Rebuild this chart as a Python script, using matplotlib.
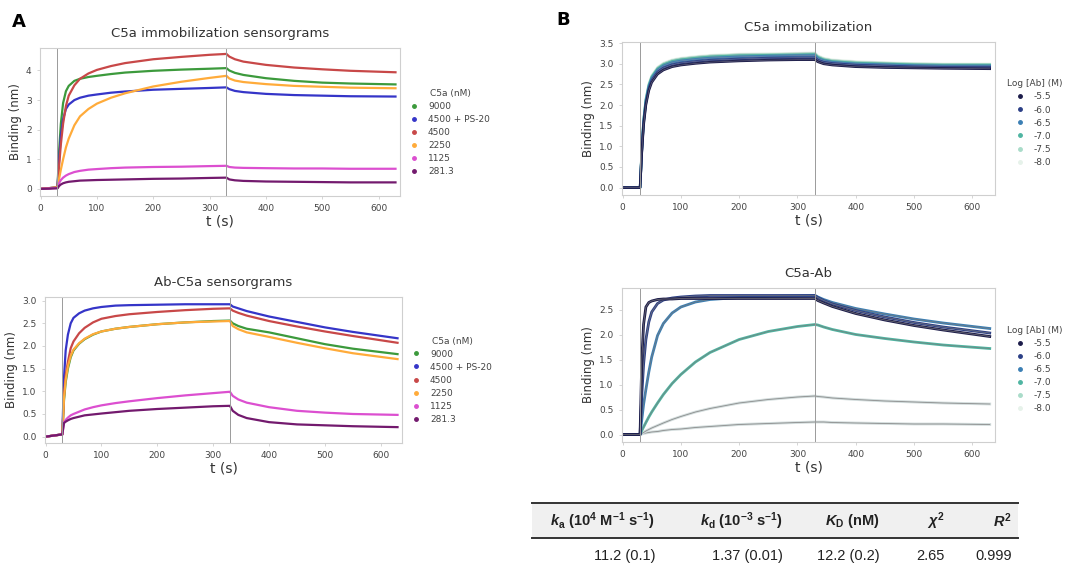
import matplotlib
matplotlib.use("Agg")
import matplotlib.pyplot as plt
from matplotlib.lines import Line2D
from matplotlib.patches import Rectangle

plt.rcParams["mathtext.fontset"] = "custom"
plt.rcParams["mathtext.rm"] = "Liberation Sans:bold"
plt.rcParams["mathtext.it"] = "Liberation Sans:italic:bold"
plt.rcParams["mathtext.bf"] = "Liberation Sans:bold"

# shared time grid (s)
T = [0, 30, 33, 36, 40, 45, 50, 60, 70, 85, 100, 125, 150, 200, 250, 300,
     330, 335, 345, 360, 400, 450, 500, 550, 630]

# panel A, C5a immobilization sensorgrams
A1_LABELS = ["9000", "4500 + PS-20", "4500", "2250", "1125", "281.3"]
A1_9000 = [0, 0.05, 1.3, 2.2, 2.9, 3.3, 3.48, 3.65, 3.72, 3.78, 3.82, 3.88, 3.93, 3.99, 4.03, 4.06,
           4.08, 4.0, 3.92, 3.85, 3.74, 3.65, 3.59, 3.56, 3.53]
A1_4500PS = [0, 0.05, 1.0, 1.8, 2.35, 2.7, 2.85, 3.0, 3.08, 3.15, 3.19, 3.25, 3.29, 3.35, 3.38, 3.41,
             3.43, 3.37, 3.31, 3.27, 3.21, 3.17, 3.15, 3.13, 3.12]
A1_4500 = [0, 0.05, 0.8, 1.5, 2.2, 2.8, 3.15, 3.5, 3.72, 3.9, 4.02, 4.15, 4.25, 4.38, 4.46, 4.53,
           4.56, 4.47, 4.38, 4.3, 4.19, 4.1, 4.04, 3.99, 3.94]
A1_2250 = [0, 0.05, 0.35, 0.65, 1.0, 1.4, 1.7, 2.15, 2.45, 2.7, 2.88, 3.08, 3.23, 3.46, 3.62, 3.75,
           3.82, 3.73, 3.66, 3.61, 3.54, 3.48, 3.45, 3.42, 3.4]
A1_1125 = [0, 0.03, 0.2, 0.3, 0.38, 0.45, 0.5, 0.57, 0.61, 0.65, 0.67, 0.7, 0.72, 0.74, 0.75, 0.77,
           0.78, 0.74, 0.72, 0.71, 0.7, 0.69, 0.69, 0.68, 0.68]
A1_281 = [0, 0.02, 0.1, 0.15, 0.19, 0.22, 0.24, 0.26, 0.28, 0.29, 0.3, 0.31, 0.32, 0.34, 0.35, 0.37,
          0.38, 0.32, 0.29, 0.27, 0.25, 0.24, 0.23, 0.22, 0.22]

# panel A, Ab-C5a sensorgrams
A2_9000 = [0, 0.05, 0.8, 1.2, 1.5, 1.75, 1.9, 2.05, 2.15, 2.25, 2.32, 2.38, 2.42, 2.48, 2.52, 2.55,
           2.56, 2.5, 2.44, 2.38, 2.3, 2.17, 2.04, 1.94, 1.82]
A2_4500PS = [0, 0.05, 1.3, 1.9, 2.25, 2.5, 2.62, 2.72, 2.78, 2.83, 2.86, 2.89, 2.9, 2.91, 2.92, 2.92,
             2.92, 2.87, 2.83, 2.77, 2.65, 2.53, 2.41, 2.31, 2.17]
A2_4500 = [0, 0.05, 0.9, 1.35, 1.65, 1.95, 2.1, 2.28, 2.4, 2.52, 2.6, 2.66, 2.7, 2.75, 2.79, 2.82,
           2.83, 2.78, 2.73, 2.67, 2.55, 2.43, 2.32, 2.22, 2.07]
A2_2250 = [0, 0.05, 0.85, 1.25, 1.55, 1.78, 1.92, 2.06, 2.16, 2.26, 2.32, 2.38, 2.42, 2.48, 2.52, 2.54,
           2.55, 2.44, 2.37, 2.3, 2.2, 2.07, 1.95, 1.84, 1.71]
A2_1125 = [0, 0.05, 0.32, 0.37, 0.42, 0.47, 0.5, 0.55, 0.6, 0.65, 0.69, 0.74, 0.78, 0.85, 0.91, 0.96,
           0.99, 0.9, 0.82, 0.75, 0.65, 0.57, 0.53, 0.5, 0.48]
A2_281 = [0, 0.05, 0.3, 0.33, 0.36, 0.39, 0.41, 0.44, 0.47, 0.49, 0.51, 0.54, 0.57, 0.61, 0.64, 0.67,
          0.68, 0.57, 0.48, 0.41, 0.32, 0.27, 0.25, 0.23, 0.21]

# panel B, C5a immobilization (log [Ab])
B_LABELS = ["-5.5", "-6.0", "-6.5", "-7.0", "-7.5", "-8.0"]
B1_55 = [0, 0, 0.85, 1.5, 2.0, 2.35, 2.55, 2.75, 2.85, 2.93, 2.97, 3.01, 3.04, 3.07, 3.09, 3.1,
         3.1, 3.05, 3.0, 2.97, 2.93, 2.91, 2.9, 2.89, 2.88]
B1_60 = [0, 0, 0.88, 1.55, 2.05, 2.4, 2.6, 2.8, 2.9, 2.98, 3.02, 3.06, 3.09, 3.12, 3.14, 3.15,
         3.15, 3.09, 3.04, 3.01, 2.97, 2.95, 2.93, 2.92, 2.92]
B1_65 = [0, 0, 0.9, 1.6, 2.1, 2.45, 2.65, 2.85, 2.95, 3.03, 3.07, 3.11, 3.14, 3.17, 3.19, 3.2,
         3.2, 3.13, 3.08, 3.04, 3.0, 2.98, 2.96, 2.95, 2.95]
B1_70 = [0, 0, 0.92, 1.62, 2.13, 2.48, 2.68, 2.88, 2.98, 3.06, 3.1, 3.14, 3.17, 3.2, 3.21, 3.22,
         3.23, 3.16, 3.1, 3.06, 3.02, 3.0, 2.98, 2.97, 2.97]
B1_75 = [0, 0, 0.93, 1.64, 2.15, 2.5, 2.7, 2.9, 3.0, 3.08, 3.12, 3.16, 3.19, 3.22, 3.23, 3.24,
         3.25, 3.18, 3.12, 3.08, 3.04, 3.02, 3.0, 2.99, 2.99]
B1_80 = [0, 0, 0.95, 1.66, 2.17, 2.52, 2.72, 2.92, 3.02, 3.1, 3.14, 3.18, 3.21, 3.24, 3.25, 3.26,
         3.27, 3.2, 3.14, 3.1, 3.06, 3.03, 3.01, 3.0, 3.0]

# panel B, C5a-Ab
B2_55 = [0, 0, 1.5, 2.2, 2.55, 2.64, 2.67, 2.7, 2.71, 2.71, 2.72, 2.72, 2.72, 2.72, 2.72, 2.72,
         2.72, 2.68, 2.63, 2.56, 2.42, 2.29, 2.18, 2.09, 1.96]
B2_60 = [0, 0, 0.8, 1.4, 1.9, 2.25, 2.45, 2.62, 2.69, 2.73, 2.75, 2.77, 2.78, 2.78, 2.78, 2.78,
         2.78, 2.74, 2.68, 2.61, 2.48, 2.35, 2.24, 2.15, 2.03]
B2_65 = [0, 0, 0.3, 0.6, 0.9, 1.25, 1.55, 1.98, 2.22, 2.43, 2.55, 2.65, 2.7, 2.74, 2.76, 2.77,
         2.78, 2.75, 2.7, 2.64, 2.52, 2.41, 2.31, 2.23, 2.12]
B2_70 = [0, 0, 0.08, 0.15, 0.24, 0.35, 0.45, 0.63, 0.8, 1.02, 1.2, 1.45, 1.64, 1.9, 2.06, 2.16,
         2.2, 2.19, 2.15, 2.1, 2.0, 1.92, 1.85, 1.79, 1.72]
B2_75 = [0, 0, 0.02, 0.04, 0.07, 0.1, 0.13, 0.18, 0.23, 0.3, 0.36, 0.45, 0.52, 0.63, 0.7, 0.75,
         0.77, 0.76, 0.75, 0.73, 0.7, 0.67, 0.65, 0.63, 0.61]
B2_80 = [0, 0, 0.01, 0.02, 0.03, 0.04, 0.05, 0.06, 0.08, 0.1, 0.11, 0.14, 0.16, 0.2, 0.22, 0.24,
         0.25, 0.25, 0.25, 0.24, 0.23, 0.22, 0.21, 0.21, 0.2]

# kinetics table
TABLE_HEAD = [r"$k_\mathrm{a}$ (10$^4$ M$^{-1}$ s$^{-1}$)", r"$k_\mathrm{d}$ (10$^{-3}$ s$^{-1}$)",
              r"$K_\mathrm{D}$ (nM)", r"$\chi^2$", r"$R^2$"]
TABLE_ROW = ["11.2 (0.1)", "1.37 (0.01)", "12.2 (0.2)", "2.65", "0.999"]

A_COLORS = ["#3c9a3c", "#3535c8", "#c84848", "#ffab3a", "#dc4fd0", "#731a6e"]
B_COLORS = ["#1c1c4a", "#2b3f86", "#3b7fb4", "#4fb5a2", "#a9dcc9", "#e6f2ea"]

W, H = 1081, 569
fig = plt.figure(figsize=(W / 100, H / 100), dpi=100)


def box(l, t, r, b):
    return [l / W, 1 - b / H, (r - l) / W, (b - t) / H]


def style(ax, title, ylim, yticks, xmax):
    ax.set_xlim(-1, xmax); ax.set_ylim(*ylim); ax.set_yticks(yticks)
    ax.set_xticks([0, 100, 200, 300, 400, 500, 600])
    for s in ax.spines.values():
        s.set_color("#cfcfcf"); s.set_linewidth(0.8)
    ax.tick_params(labelsize=6.5, colors="#cfcfcf", labelcolor="#444444", length=2.5, width=0.6)
    ax.axvline(30, color="#9a9a9a", lw=0.7); ax.axvline(330, color="#9a9a9a", lw=0.7)
    ax.set_title(title, fontsize=9.5, color="#333333", pad=8)
    ax.set_xlabel("t (s)", fontsize=10, color="#333333", labelpad=1)
    ax.set_ylabel("Binding (nm)", fontsize=8.5, color="#333333", labelpad=3)


def legend(ax, colors, labels, title, y):
    hs = [Line2D([], [], ls="", marker="o", ms=2.5, color=c) for c in colors]
    leg = ax.legend(hs, labels, title=title, loc="center left", bbox_to_anchor=(1.01, y),
                    frameon=False, fontsize=6.5, title_fontsize=6.5, handlelength=0.6,
                    handletextpad=1.2, labelspacing=0.45)
    for t in leg.get_texts():
        t.set_color("#444444")
    leg.get_title().set_color("#444444")


ax1 = fig.add_axes(box(40, 48, 400, 196))
for vals, c in zip([A1_9000, A1_4500PS, A1_4500, A1_2250, A1_1125, A1_281], A_COLORS):
    ax1.plot(T, vals, color=c, lw=1.6)
style(ax1, "C5a immobilization sensorgrams", (-0.24, 4.76), [0, 1, 2, 3, 4], 638)
legend(ax1, A_COLORS, A1_LABELS, "C5a (nM)", 0.43)

ax2 = fig.add_axes(box(45, 297, 402, 443))
for vals, c in zip([A2_9000, A2_4500PS, A2_4500, A2_2250, A2_1125, A2_281], A_COLORS):
    ax2.plot(T, vals, color=c, lw=1.6)
style(ax2, "Ab-C5a sensorgrams", (-0.14, 3.08), [0, 0.5, 1, 1.5, 2, 2.5, 3], 638)
ax2.set_yticklabels(["0.0", "0.5", "1.0", "1.5", "2.0", "2.5", "3.0"])
legend(ax2, A_COLORS, A1_LABELS, "C5a (nM)", 0.43)

ax3 = fig.add_axes(box(622, 42, 995, 195))
for vals, c in zip([B1_55, B1_60, B1_65, B1_70, B1_75, B1_80][::-1], B_COLORS[::-1]):
    ax3.plot(T, vals, color=c, lw=1.8)
    ax3.plot(T, vals, color="#8a8a9a", lw=0.5, alpha=0.6)
style(ax3, "C5a immobilization", (-0.18, 3.53), [0, 0.5, 1, 1.5, 2, 2.5, 3, 3.5], 639)
ax3.set_yticklabels(["0.0", "0.5", "1.0", "1.5", "2.0", "2.5", "3.0", "3.5"])
legend(ax3, B_COLORS, B_LABELS, "Log [Ab] (M)", 0.47)

ax4 = fig.add_axes(box(622, 288, 995, 442))
for vals, c in zip([B2_55, B2_60, B2_65, B2_70, B2_75, B2_80][::-1], B_COLORS[::-1]):
    ax4.plot(T, vals, color=c if c not in B_COLORS[4:] else "#d2dcdc", lw=2.0)
    ax4.plot(T, vals, color="#7a7a7a", lw=0.6, alpha=0.8)
style(ax4, "C5a-Ab", (-0.15, 2.93), [0, 0.5, 1, 1.5, 2, 2.5], 639)
ax4.set_yticklabels(["0.0", "0.5", "1.0", "1.5", "2.0", "2.5"])
legend(ax4, B_COLORS, B_LABELS, "Log [Ab] (M)", 0.47)

fig.text(12 / W, 1 - 22 / H, "A", fontsize=13, fontweight="bold", va="center")
fig.text(556 / W, 1 - 20 / H, "B", fontsize=13, fontweight="bold", va="center")

# table
fig.add_artist(Rectangle((532 / W, 1 - 538 / H), 486 / W, 35 / H, color="#f0f0f0", lw=0))
for y in (503, 538):
    fig.add_artist(Line2D([532 / W, 1018 / W], [1 - y / H] * 2, color="#333333", lw=1.4))
for x, head, val in zip([655, 783, 880, 945, 1012], TABLE_HEAD, TABLE_ROW):
    fig.text(x / W, 1 - 521 / H, head, ha="right", va="center", fontsize=10.5,
             family="Liberation Sans", fontweight="bold", color="#222222")
    fig.text(x / W, 1 - 556 / H, val, ha="right", va="center", fontsize=10.5,
             family="Liberation Sans", color="#222222")

fig.savefig("out.png", dpi=100)
